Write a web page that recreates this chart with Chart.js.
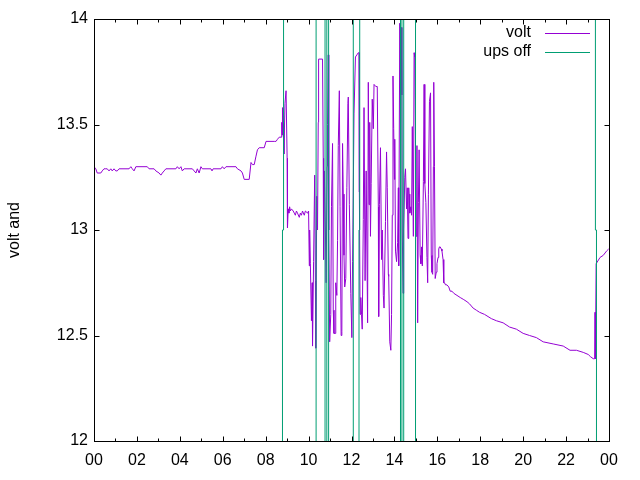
<!DOCTYPE html>
<html><head><meta charset="utf-8">
<script src="https://cdn.jsdelivr.net/npm/chart.js@4/dist/chart.umd.min.js"></script>
<style>html,body{margin:0;padding:0;background:#fff}canvas{display:block}</style>
</head><body>
<canvas id="c" width="640" height="480" style="width:640px;height:480px"></canvas>
<script>
const xTickLabels = ["00","02","04","06","08","10","12","14","16","18","20","22","00"];
const yTicks = [12, 12.5, 13, 13.5, 14];
const seriesNames = ["volt", "ups off"];
const yAxisTitle = "volt and";

const voltTimes = [
"00:00","00:05","00:09","00:19","00:23","00:28","00:33","00:37","00:42","00:47","00:51","00:56","01:01","01:05","01:10","01:38","01:43","01:47","01:52","01:57",
"02:29","02:34","02:48","02:53","03:02","03:07","03:11","03:16","03:21","03:49","03:53","03:58","04:03","04:07","04:12","04:35","04:40","04:45","04:49","04:54",
"04:59","05:03","05:27","05:30","05:33","05:55","05:59","06:04","06:09","06:37","06:41","06:51","06:55","07:00","07:14","07:19","07:23","07:28","07:33","07:37",
"07:42","07:56","08:01","08:24","08:29","08:33","08:38",
"08:43","08:45","08:46","08:47","08:49","08:51","08:54","08:57","08:59","09:00","09:01","09:03","09:05","09:07","09:09","09:12","09:17","09:20","09:23","09:26",
"09:29","09:34","09:37","09:40","09:43","09:48","09:51","09:57","10:00","10:02","10:03","10:05","10:08","10:10","10:11","10:14","10:17","10:19","10:20","10:23",
"10:25","10:27","10:28","10:39","10:41","10:42","10:44","10:47","10:49","10:52","10:53","10:55","10:56","10:57","10:59","11:02","11:04","11:07","11:09","11:11",
"11:14","11:16","11:19","11:21","11:23","11:26","11:28","11:31","11:33","11:35","11:37","11:39","11:41","11:44","11:47","11:50","11:51","11:54","11:58","12:01",
"12:03","12:05","12:07","12:11","12:15","12:19","12:21","12:22","12:24","12:26","12:28","12:30","12:31","12:33","12:35","12:38","12:41","12:45","12:47","12:49",
"12:51","12:53","12:55","12:58","13:01","13:03","13:08","13:12","13:15","13:16","13:18","13:21","13:24","13:26","13:29","13:31","13:35","13:38","13:40","13:43",
"13:44","13:47","13:50","13:52","13:54","13:56","13:58","14:00","14:01","14:03","14:06","14:09","14:11","14:12","14:15","14:17","14:19","14:21","14:22","14:24",
"14:26","14:29","14:31","14:34","14:36","14:38","14:40","14:41","14:43","14:46","14:48","14:50","14:53","14:55","14:57","14:58","15:01","15:03","15:05","15:07",
"15:09","15:12","15:14","15:16","15:18","15:21","15:23","15:25","15:28","15:31","15:33","15:35","15:38","15:41","15:43","15:45","15:47","15:49","15:50","15:52",
"15:54","15:57","15:59","16:02","16:04","16:06","16:08","16:11","16:13","16:16","16:18","16:20","16:23","16:27","16:32","16:36","16:41","16:46","16:55","17:04",
"17:14","17:23","17:30","17:40","17:49","17:58","18:12","18:31","18:45","19:04","19:22","19:41","20:00","20:18","20:37","20:56","21:24","21:52","22:11","22:29",
"22:48","23:02","23:08","23:16","23:20","23:21","23:22","23:24","23:25","23:35","23:44","23:53","23:59"
];
const voltValues = [
13.30,13.29,13.27,13.27,13.28,13.29,13.29,13.29,13.28,13.29,13.28,13.29,13.28,13.28,13.29,13.29,13.30,13.29,13.28,13.30,
13.30,13.29,13.29,13.28,13.27,13.26,13.27,13.28,13.29,13.29,13.30,13.29,13.30,13.28,13.29,13.29,13.28,13.27,13.29,13.27,
13.30,13.29,13.29,13.28,13.29,13.29,13.30,13.29,13.30,13.30,13.29,13.28,13.27,13.24,13.24,13.32,13.31,13.31,13.35,13.38,
13.39,13.39,13.42,13.42,13.42,13.43,13.44,
13.44,13.51,13.45,13.58,13.50,13.36,13.60,13.66,13.66,13.34,13.01,13.10,13.08,13.11,13.09,13.10,13.09,13.08,13.07,13.09,
13.08,13.06,13.08,13.07,13.09,13.07,13.09,13.08,13.09,12.83,13.00,12.84,12.57,12.75,12.45,12.85,13.26,12.76,12.44,13.16,
13.00,13.51,13.81,13.81,13.34,12.86,13.28,13.00,12.75,13.30,13.50,13.83,13.45,13.00,12.47,12.60,13.11,13.41,12.62,12.51,
12.51,12.75,12.69,12.95,13.40,13.66,13.11,12.50,12.52,13.41,13.17,12.88,12.73,12.77,13.20,13.60,13.63,13.12,12.70,12.49,
12.85,13.18,13.55,13.82,13.83,13.84,13.84,13.18,12.60,12.68,12.60,12.53,12.53,13.05,13.58,12.76,13.28,12.56,13.70,13.12,
13.51,12.97,13.22,13.62,13.48,13.69,13.68,13.68,13.11,12.59,13.12,13.39,12.86,13.00,12.69,12.63,13.04,13.37,13.20,12.79,
12.78,12.47,12.43,12.60,13.07,13.73,13.48,13.24,13.43,12.90,12.85,12.94,13.20,12.83,13.98,13.64,13.96,13.64,13.00,12.70,
13.00,13.25,13.29,13.10,13.20,12.96,13.20,13.17,13.08,13.11,13.07,13.49,12.97,13.84,13.82,13.62,12.97,13.40,12.56,13.13,
13.38,12.88,12.84,12.92,12.83,13.23,13.69,13.22,13.13,12.87,12.75,13.17,13.61,13.65,12.88,12.80,12.79,13.30,13.70,13.30,
12.77,12.80,12.84,12.87,12.91,12.92,12.92,12.91,12.90,12.86,12.75,12.75,12.74,12.74,12.73,12.71,12.71,12.70,12.69,12.68,
12.67,12.66,12.65,12.63,12.62,12.61,12.60,12.58,12.57,12.56,12.54,12.53,12.51,12.50,12.49,12.47,12.46,12.45,12.43,12.43,
12.42,12.41,12.40,12.39,12.39,12.61,12.39,12.84,12.84,12.87,12.88,12.90,12.91
];

const upsTimes  = ["00:00","08:47","08:50","10:21","10:46","10:51","10:56","12:05","12:21","12:23","14:17","14:21","14:26","14:59","23:22","23:25","24:00"];
const upsValues = [0, 13, 26, 0, 26, 0, 26, 0, 13, 26, 0, 26, 0, 26, 13, 0, 0];

function toHours(t) { const p = t.split(":"); return Number(p[0]) + Number(p[1]) / 60; }
function points(times, values) { return times.map((t, i) => ({ x: toHours(t), y: values[i] })); }

const FONT = "'Liberation Sans', Arial, Helvetica, sans-serif";
Chart.defaults.font.family = FONT;
Chart.defaults.font.size = 16;
Chart.defaults.color = '#000';

const framePlugin = {
  id: 'frame',
  afterDatasetsDraw(chart) {
    const { ctx, chartArea: a, scales: { x, y } } = chart;
    ctx.save();
    ctx.strokeStyle = '#000';
    ctx.lineWidth = 1;
    const L = Math.round(a.left) + 0.5, R = Math.round(a.right) + 0.5;
    const T = Math.round(a.top) + 0.5, B = Math.round(a.bottom) + 0.5;
    ctx.beginPath();
    for (let h = 0; h <= 24; h++) {
      const px = Math.round(x.getPixelForValue(h)) + 0.5;
      const len = h % 2 === 0 ? 5 : 3;
      ctx.moveTo(px, B); ctx.lineTo(px, B - len);
      ctx.moveTo(px, T); ctx.lineTo(px, T + len);
    }
    yTicks.forEach(v => {
      const py = Math.round(y.getPixelForValue(v)) + 0.5;
      ctx.moveTo(L, py); ctx.lineTo(L + 5, py);
      ctx.moveTo(R, py); ctx.lineTo(R - 5, py);
    });
    ctx.stroke();
    ctx.strokeRect(L, T, R - L, B - T);
    // key
    ctx.font = "16px " + FONT;
    ctx.fillStyle = '#000';
    ctx.textAlign = 'right';
    ctx.textBaseline = 'middle';
    const keyY = [33, 52];
    chart.data.datasets.forEach((ds, i) => {
      ctx.fillText(ds.label, 531, keyY[i]);
      ctx.strokeStyle = ds.borderColor;
      ctx.beginPath();
      ctx.moveTo(545, keyY[i] + 0.5); ctx.lineTo(590, keyY[i] + 0.5);
      ctx.stroke();
    });
    ctx.restore();
  }
};

new Chart(document.getElementById('c'), {
  type: 'line',
  data: {
    datasets: [
      { label: seriesNames[0], data: points(voltTimes, voltValues), borderColor: '#9400d3', borderWidth: 1, pointRadius: 0, tension: 0, fill: false, order: 1 },
      { label: seriesNames[1], data: points(upsTimes, upsValues), borderColor: '#009e73', borderWidth: 1, pointRadius: 0, tension: 0, fill: false, stepped: true, order: 0 }
    ]
  },
  options: {
    responsive: false,
    animation: false,
    devicePixelRatio: 1,
    events: [],
    layout: { padding: { top: 19, right: 31, left: 0, bottom: 0 } },
    plugins: { legend: { display: false }, tooltip: { enabled: false } },
    scales: {
      x: {
        type: 'linear', min: 0, max: 24,
        grid: { display: false, drawTicks: false },
        border: { display: false },
        ticks: { stepSize: 2, padding: 10, maxRotation: 0, autoSkip: false,
          callback: v => xTickLabels[Math.round(v / 2)] },
        afterFit: s => { s.height = 39; }
      },
      y: {
        min: 12, max: 14,
        grid: { display: false, drawTicks: false },
        border: { display: false },
        ticks: { stepSize: 0.5, padding: 6, autoSkip: false,
          callback: v => { const i = yTicks.indexOf(v); return i >= 0 ? String(yTicks[i]) : ''; } },
        title: { display: true, text: yAxisTitle, padding: { top: 5, bottom: 0 } },
        afterFit: s => { s.width = 94; }
      }
    }
  },
  plugins: [framePlugin]
});
</script>
</body></html>
